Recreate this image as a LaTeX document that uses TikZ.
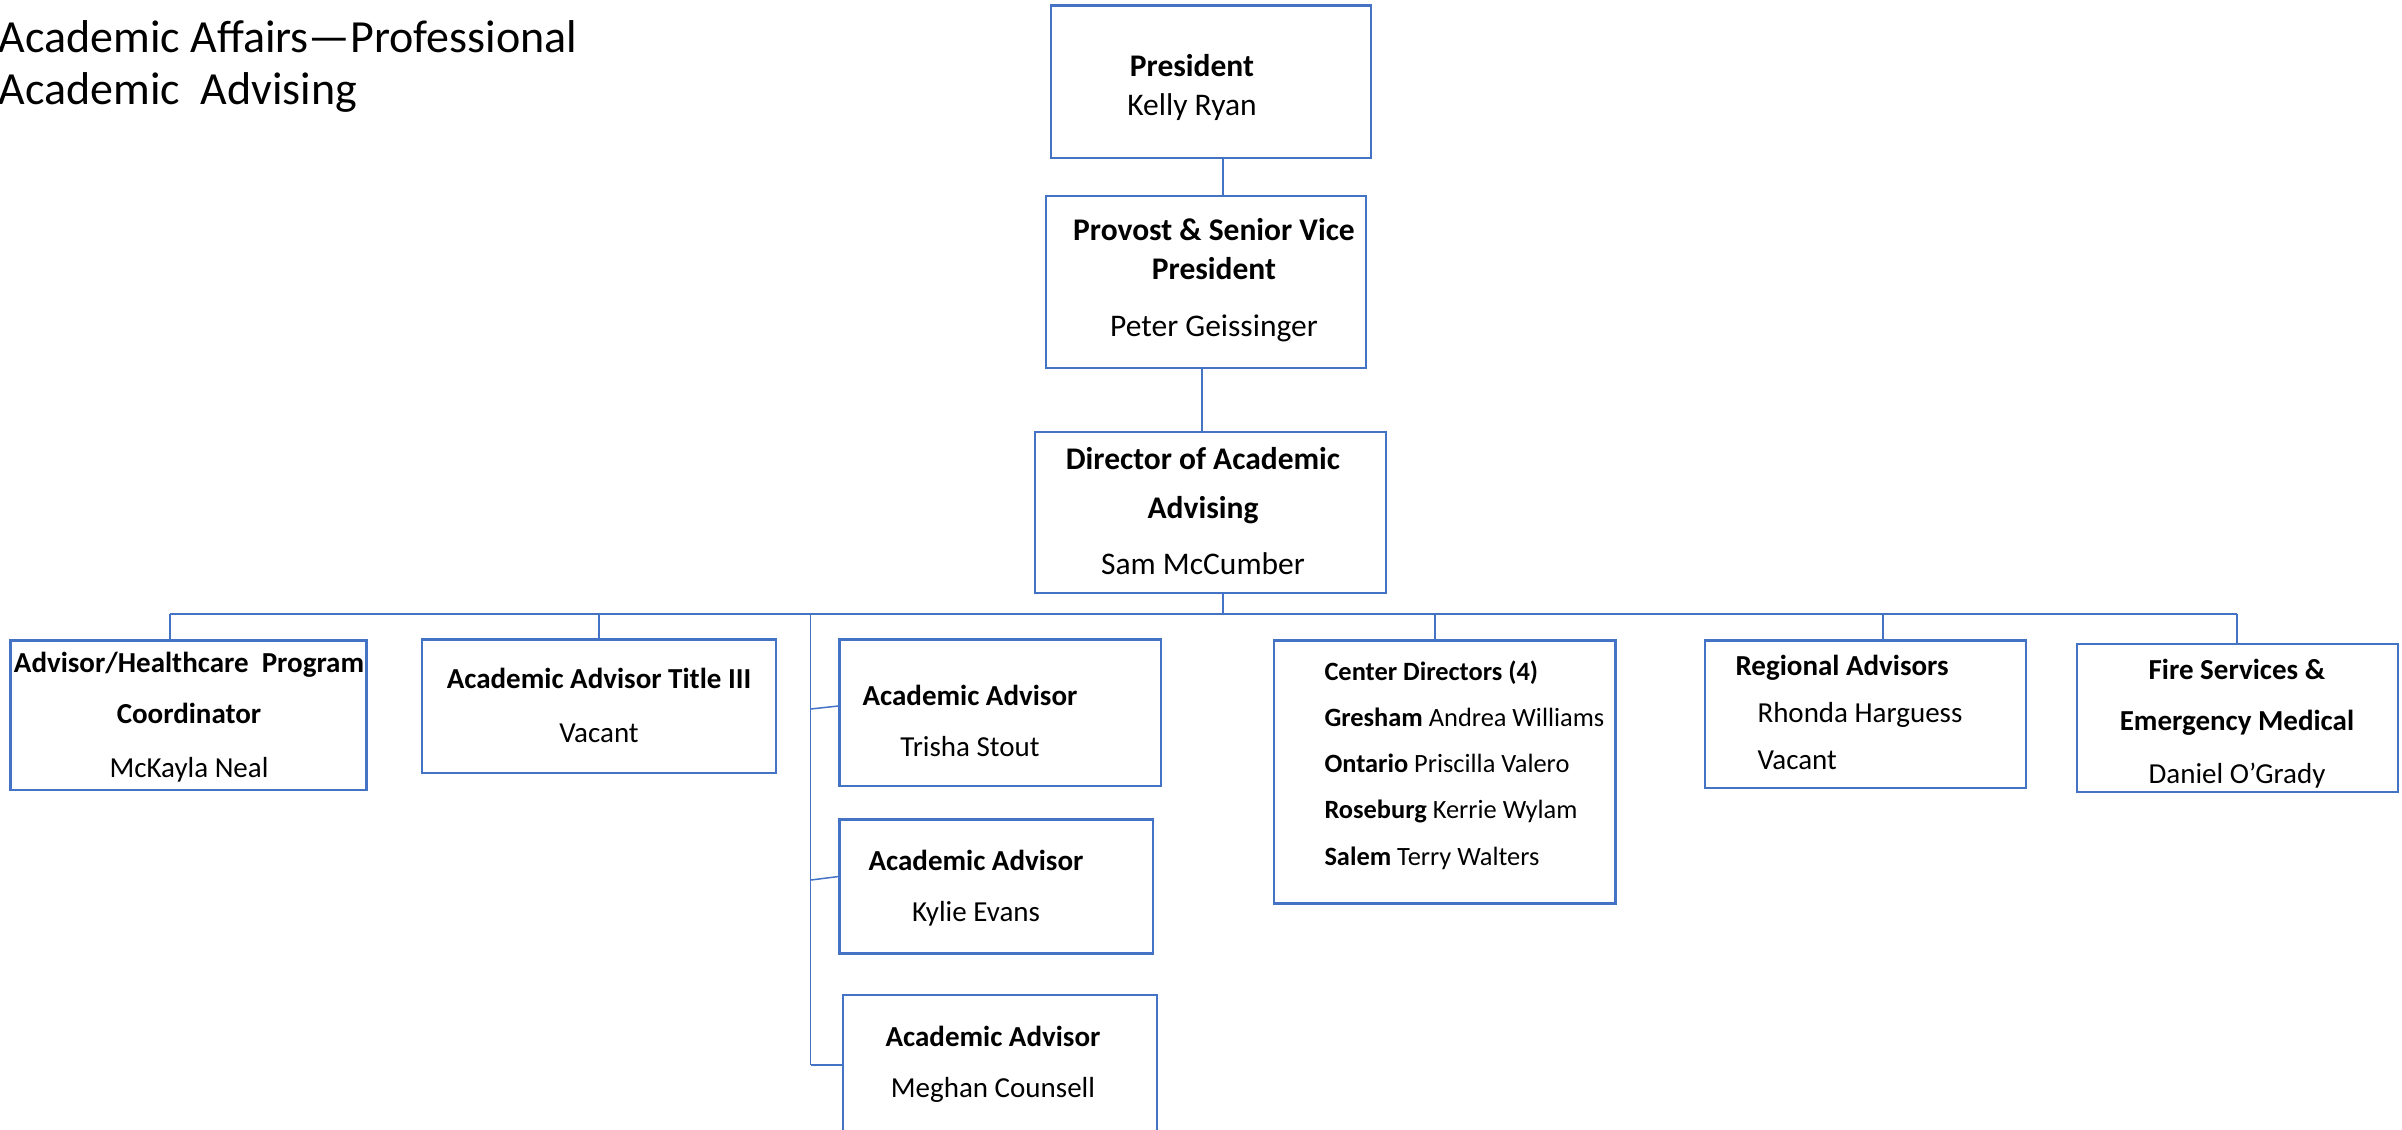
\documentclass[tikz,border=0pt]{standalone}
\usepackage{fontspec}
\setmainfont{Carlito}
\usepackage{tikz}
\usetikzlibrary{positioning}
\definecolor{boxblue}{HTML}{4472C4}
\tikzstyle{box} = [rectangle, draw=boxblue, line width=1pt, inner sep=0pt]
\tikzstyle{link} = [draw=boxblue, line width=0.6pt]
\tikzstyle{big} = [font=\fontsize{12.6}{15.6}\selectfont, align=center, anchor=base, inner sep=0pt]
\tikzstyle{small} = [font=\fontsize{11.6}{20.4}\selectfont, align=center, anchor=base, inner sep=0pt]
\tikzstyle{heading} = [font=\fontsize{18.4}{20.8}\selectfont, align=left, anchor=base west, inner sep=0pt]

\begin{document}
\begin{tikzpicture}[x=0.4pt, y=-0.4pt]
        \useasboundingbox (0,0) rectangle (2402,1129);
        % anchor base is the last line of each text
        \node[heading] (title) at (-2,104) {Academic Affairs—Professional\\Academic\ \ Advising};

        % boxes
        \node[box, minimum width=128pt, minimum height=61pt] (president) at (1211,81.75) {};
        \node[box, minimum width=128pt, minimum height=68.8pt] (provost) at (1206,282) {};
        \node[box, minimum width=140.4pt, minimum height=64.4pt] (director) at (1210.5,512.5) {};
        \node[box, minimum width=142.4pt, minimum height=59.8pt] (coordinator) at (188.65,715.3) {};
        \node[box, minimum width=141.6pt, minimum height=53.4pt] (titleiii) at (599,706.25) {};
        \node[box, minimum width=128.6pt, minimum height=58.6pt] (advisora) at (1000.25,712.75) {};
        \node[box, minimum width=125.4pt, minimum height=53.6pt] (advisorb) at (996.25,886.55) {};
        \node[box, minimum width=125.6pt, minimum height=56pt] (advisorc) at (1000,1065) {};
        \node[box, minimum width=136.6pt, minimum height=105.1pt] (centers) at (1444.75,771.95) {};
        \node[box, minimum width=128.4pt, minimum height=59pt] (regional) at (1865.5,714.3) {};
        \node[box, minimum width=128.4pt, minimum height=59.2pt] (fire) at (2237.5,718) {};

        % texts
        \node[big] (presidenttxt) at (1192,115) {\textbf{President}\\Kelly Ryan};
        \node[big] (provosttxt) at (1214,336) {\textbf{Provost \& Senior Vice}\\\textbf{President}\\[7.2pt]Peter Geissinger};
        \node[big] (directortxt) at (1203,574) {\textbf{Director of Academic}\\[4pt]\textbf{Advising}\\[6.8pt]Sam McCumber};
        \node[small] (coordinatortxt) at (189,777) {\textbf{Advisor/Healthcare\ \ Program}\\\textbf{Coordinator}\\[1.2pt]McKayla Neal};
        \node[small] (titleiiitxt) at (599,742.5) {\textbf{Academic Advisor Title III}\\[1.4pt]Vacant};
        \node[small] (advisoratxt) at (970,756) {\textbf{Academic Advisor}\\Trisha Stout};
        \node[small] (advisorbtxt) at (976,921) {\textbf{Academic Advisor}\\Kylie Evans};
        \node[small] (advisorctxt) at (993,1097.6) {\textbf{Academic Advisor}\\Meghan Counsell};
        \node[small, font=\fontsize{10.56}{18.45}\selectfont, align=left, anchor=base west] (centerstxt) at (1324,865)
            {\textbf{Center Directors (4)}\\\textbf{Gresham} Andrea Williams\\\textbf{Ontario} Priscilla Valero\\\textbf{Roseburg} Kerrie Wylam\\\textbf{Salem} Terry Walters};
        \node[small, font=\fontsize{11.6}{18.8}\selectfont, align=left, anchor=base west] (regionaltxt) at (1735,769.6)
            {\textbf{Regional Advisors}\\\hspace*{8.8pt}Rhonda Harguess\\\hspace*{8.8pt}Vacant};
        \node[small] (firetxt) at (2237,783) {\textbf{Fire Services \&}\\\textbf{Emergency Medical}\\[0.8pt]Daniel O’Grady};

        % lines
        \coordinate (busleft) at (170,614);
        \coordinate (busright) at (2237,614);
        \coordinate (trunk) at (810.5,614);
        \draw[link] ([xshift=4.8pt]president.south) -- ([xshift=4.8pt]president.south |- provost.north);
        \draw[link] ([xshift=-1.6pt]provost.south) -- ([xshift=-1.6pt]provost.south |- director.north);
        \draw[link] ([xshift=5pt]director.south) -- ([xshift=5pt]director.south |- busleft);
        \draw[link] (busleft) -- (busright);
        \draw[link] (busleft) -- (busleft |- coordinator.north);
        \draw[link] (titleiii.north) -- (titleiii.north |- busleft);
        \draw[link] (trunk) -- (trunk |- advisorc.west);
        \draw[link] ([yshift=1.5pt]trunk |- advisora.west) -- ([yshift=2.7pt]advisora.west);
        \draw[link] ([yshift=2.6pt]trunk |- advisorb.west) -- ([yshift=4pt]advisorb.west);
        \draw[link] (trunk |- advisorc.west) -- (advisorc.west);
        \draw[link] ([xshift=-4pt]centers.north) -- ([xshift=-4pt]centers.north |- busleft);
        \draw[link] ([xshift=7pt]regional.north) -- ([xshift=7pt]regional.north |- busleft);
        \draw[link] (busright) -- (busright |- fire.north);
\end{tikzpicture}
\end{document}
